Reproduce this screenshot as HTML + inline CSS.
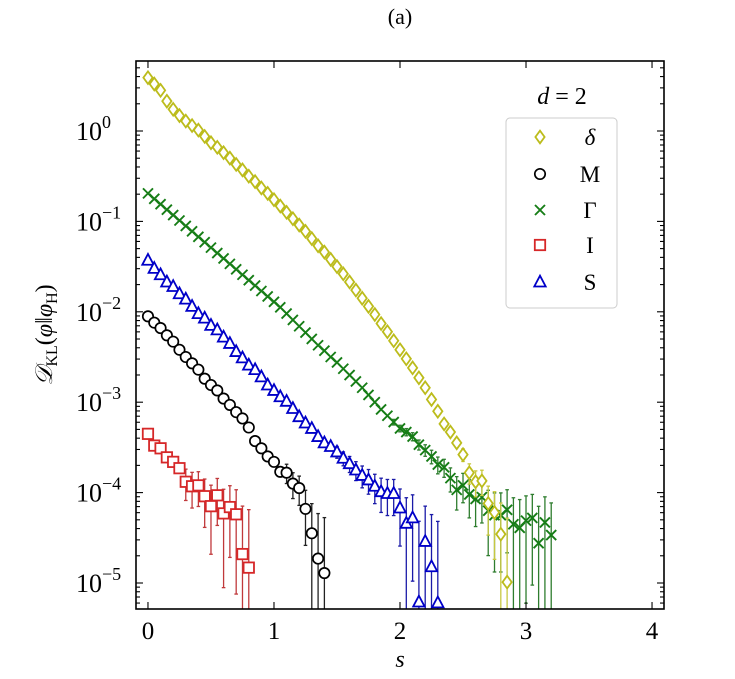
<!DOCTYPE html>
<html><head><meta charset="utf-8">
<style>
html,body{margin:0;padding:0;background:#fff;}
svg{display:block;font-family:"Liberation Serif",serif;}
</style></head>
<body>
<svg id="chart" width="735" height="679" viewBox="0 0 735 679" xmlns="http://www.w3.org/2000/svg">
<text x="400" y="24" font-size="22" text-anchor="middle">(a)</text>
<g id="plot"></g>
<text x="400" y="667" font-size="24" font-style="italic" text-anchor="middle">s</text>
<text transform="translate(52,335) rotate(-90)" font-size="24" text-anchor="middle"><tspan font-style="italic" font-family="DejaVu Serif,serif">𝒟</tspan><tspan font-size="16" dy="5">KL</tspan><tspan dy="-5">(</tspan><tspan font-style="italic">φ</tspan>‖<tspan font-style="italic">φ</tspan><tspan font-size="16" dy="5">H</tspan><tspan dy="-5">)</tspan></text>
<g id="legend">
<text x="562" y="104" font-size="24" text-anchor="middle"><tspan font-style="italic">d</tspan> = 2</text>
<rect x="506" y="118" width="111" height="190" rx="4" fill="#fff" stroke="#ccc" stroke-width="1"/>
</g>
</svg>
<script>
const sStep = 0.05;
const deltaLog = [0.59,0.52,0.45,0.33,0.24,0.17,0.11,0.06,0.01,-0.06,-0.13,-0.18,-0.24,-0.30,-0.37,-0.43,-0.50,-0.56,-0.63,-0.69,-0.76,-0.83,-0.90,-0.97,-1.04,-1.11,-1.19,-1.27,-1.34,-1.42,-1.50,-1.58,-1.67,-1.76,-1.85,-1.94,-2.03,-2.13,-2.22,-2.32,-2.42,-2.52,-2.62,-2.73,-2.84,-2.97,-3.10,-3.24,-3.33,-3.45,-3.58,-3.78,-3.88,-3.87,-4.12,-4.22,-4.46,-4.99];
const mLog = [-2.05,-2.12,-2.18,-2.26,-2.33,-2.42,-2.50,-2.57,-2.64,-2.74,-2.81,-2.87,-2.96,-3.03,-3.11,-3.18,-3.28,-3.43,-3.51,-3.60,-3.66,-3.77,-3.78,-3.90,-3.95,-4.18,-4.45,-4.73,-4.89];
const gammaLog = [-0.69,-0.75,-0.81,-0.87,-0.93,-0.99,-1.05,-1.11,-1.17,-1.23,-1.29,-1.35,-1.41,-1.47,-1.53,-1.59,-1.65,-1.71,-1.77,-1.83,-1.89,-1.95,-2.02,-2.09,-2.16,-2.23,-2.30,-2.37,-2.43,-2.50,-2.56,-2.63,-2.70,-2.77,-2.84,-2.92,-3.00,-3.08,-3.15,-3.22,-3.29,-3.33,-3.38,-3.47,-3.53,-3.60,-3.69,-3.72,-3.84,-3.97,-3.92,-4.02,-4.07,-4.05,-4.20,-4.25,-4.25,-4.19,-4.35,-4.39,-4.31,-4.28,-4.56,-4.33,-4.47];
const iLog = [-3.35,-3.48,-3.51,-3.61,-3.66,-3.73,-3.88,-3.93,-3.92,-4.04,-4.15,-4.03,-4.23,-4.16,-4.24,-4.68,-4.83];
const sLog = [-1.43,-1.52,-1.59,-1.67,-1.72,-1.80,-1.86,-1.94,-2.02,-2.07,-2.15,-2.20,-2.28,-2.35,-2.44,-2.51,-2.59,-2.64,-2.72,-2.81,-2.87,-2.94,-2.99,-3.07,-3.16,-3.23,-3.29,-3.38,-3.45,-3.49,-3.55,-3.62,-3.68,-3.75,-3.81,-3.86,-3.93,-3.99,-4.01,-4.01,-4.17,-4.34,-4.28,-5.21,-4.54,-4.82,-5.22];
// absolute error (units of 1e-5), from given start index onward
const deltaErrStart = 50, deltaErr = 4.2;
const mErrStart = 22, mErr = 4.0;
const gammaErrStart = 39, gammaErr = 4.3;
const iErrStart = 6, iErr = 5.0;
const sErrStart = 30, sErr = 4.2;
const xTicks = [0,1,2,3,4];
const yTickExps = [0,-1,-2,-3,-4,-5];

const X0=136, X1=664, Y0=61, Y1=609;
const xMin=-0.095, xMax=4.095;
const xs = v => X0 + (v - xMin)/(xMax - xMin)*(X1-X0);
const yLog = l => 131 - 90.4*l;
const ys = v => yLog(Math.log10(v));
const NS="http://www.w3.org/2000/svg";
const plot=document.getElementById('plot');
function mk(tag, attrs, parent){const e=document.createElementNS(NS,tag);for(const k in attrs)e.setAttribute(k,attrs[k]);(parent||plot).appendChild(e);return e;}

const clip=mk('clipPath',{id:'pc'});mk('rect',{x:X0,y:Y0,width:X1-X0,height:Y1-Y0},clip);
const data=mk('g',{'clip-path':'url(#pc)'});



function marker(type,cx,cy,col,g){
  let e;
  if(type==='diamond') e=mk('polygon',{points:`${cx},${cy-6.3} ${cx+4.6},${cy} ${cx},${cy+6.3} ${cx-4.6},${cy}`,fill:'#fff',stroke:col,'stroke-width':1.8},g);
  else if(type==='circle') e=mk('circle',{cx:cx,cy:cy,r:5.2,fill:'#fff',stroke:col,'stroke-width':1.7},g);
  else if(type==='square') e=mk('rect',{x:cx-5.2,y:cy-5.2,width:10.4,height:10.4,fill:'#fff',stroke:col,'stroke-width':1.8},g);
  else if(type==='triangle') e=mk('polygon',{points:`${cx},${cy-6.3} ${cx+5.7},${cy+4.5} ${cx-5.7},${cy+4.5}`,fill:'#fff',stroke:col,'stroke-width':1.8},g);
  else { e=mk('path',{d:`M${cx-5},${cy-5}L${cx+5},${cy+5}M${cx-5},${cy+5}L${cx+5},${cy-5}`,stroke:col,'stroke-width':1.9,fill:'none'},g); }
  return e;
}
function series(name,logs,type,col,errCol,errStart,err){
  const g=mk('g',{},data);
  
  
  logs.forEach((l,i)=>{
    if(i<errStart) return;
    const v=Math.pow(10,l), e=err*1e-5, x=xs(i*sStep);
    const hi=ys(v+e), lo=(v-e>0)?ys(v-e):Y1+10;
    mk('line',{x1:x,x2:x,y1:hi,y2:lo,stroke:errCol,'stroke-width':1.3},g);
    mk('line',{x1:x-1.8,x2:x+1.8,y1:hi,y2:hi,stroke:errCol,'stroke-width':1.3},g);
    mk('line',{x1:x-1.8,x2:x+1.8,y1:lo,y2:lo,stroke:errCol,'stroke-width':1.3},g);
  });
  logs.forEach((l,i)=>{
    const m=marker(type,xs(i*sStep),yLog(l),col,g);
    
    
  });
}
series('i',iLog,'square','#d62728','#c0393b',iErrStart,iErr);
series('m',mLog,'circle','#000','#222',mErrStart,mErr);
series('s',sLog,'triangle','#0000c8','#1a1aa8',sErrStart,sErr);
series('gamma',gammaLog,'x','#167d16','#2e7d2e',gammaErrStart,gammaErr);
series('delta',deltaLog,'diamond','#bcbc1c','#c8c840',deltaErrStart,deltaErr);

const frame=mk('rect',{x:X0,y:Y0,width:X1-X0,height:Y1-Y0,fill:'none',stroke:'#000','stroke-width':1.6});


const ax=mk('g',{stroke:'#000','stroke-width':1.1});


xTicks.forEach(t=>{
  const x=xs(t);
  mk('line',{x1:x,x2:x,y1:Y1,y2:Y1-7},ax);
  mk('line',{x1:x,x2:x,y1:Y0,y2:Y0+7},ax);
  const tl=mk('text',{x:x,y:Y1+30,'font-size':25,'text-anchor':'middle',stroke:'none',fill:'#000'});
  tl.textContent=t;
  
  
});
for(let d=1;d>=-6;d--){
  for(let k=1;k<10;k++){
    const y=yLog(d+Math.log10(k));
    if(y<Y0||y>Y1) continue;
    const len=k===1?7:4;
    mk('line',{x1:X0,x2:X0+len,y1:y,y2:y},ax);
    mk('line',{x1:X1,x2:X1-len,y1:y,y2:y},ax);
  }
}
yTickExps.forEach(e=>{
  const y=yLog(e);
  const tl=mk('text',{x:X0-34,y:y+9,'font-size':26,'text-anchor':'end',fill:'#000'});
  
  
  tl.textContent='10';
  const sup=mk('text',{x:X0-34,y:y-3,'font-size':18,'text-anchor':'start',fill:'#000'});
  
  
  sup.textContent=e===0?'0':'\u2212'+(-e);
});

const leg=document.getElementById('legend');
const entries=[['diamond','#bcbc1c','δ',true],['circle','#000','M',false],['x','#167d16','Γ',false],['square','#d62728','I',false],['triangle','#0000c8','S',false]];
const rowsY=[137,174,210,245,282];
entries.forEach((en,i)=>{
  const g=mk('g',{},leg);
  
  
  marker(en[0],540,rowsY[i],en[1],g);
  const t=mk('text',{x:590,y:rowsY[i]+8,'font-size':23,'text-anchor':'middle',fill:'#000'},g);
  if(en[3]) t.setAttribute('font-style','italic');
  t.textContent=en[2];
});
</script>
</body></html>
